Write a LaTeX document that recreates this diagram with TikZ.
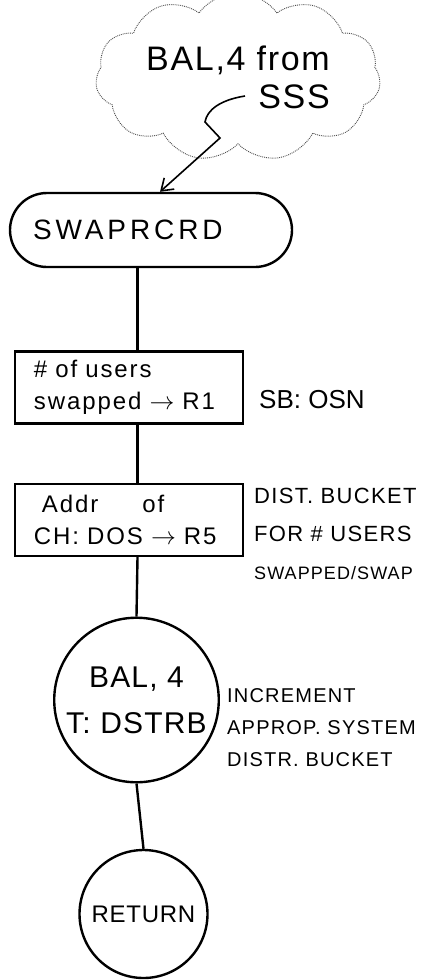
\documentclass[tikz,border=0pt]{standalone}
\usepackage{fontspec}
\setmainfont{Liberation Sans}
\usetikzlibrary{shapes.symbols,arrows.meta}

\begin{document}
\begin{tikzpicture}[x=1pt, y=-1pt,
  flow/.style={line width=2.4pt},
  procbox/.style={draw, flow, rectangle, minimum height=72pt, text width=190pt,
    inner xsep=19pt, align=left,
    font=\fontsize{24}{32}\selectfont\addfontfeature{LetterSpace=8}},
  callcircle/.style={draw, flow, circle, align=center},
  remark/.style={align=left, inner sep=0pt}]
  \useasboundingbox (0,0) rectangle (428,980);

  % Caller
  \node[cloud, cloud puffs=11, cloud puff arc=110, aspect=2,
    draw=black!70, densely dotted, line width=0.9pt,
    minimum width=285pt, minimum height=138pt,
    align=right, font=\fontsize{34}{38}\selectfont\addfontfeature{LetterSpace=5}]
    (caller) at (238,77) {BAL,4 from\\SSS};
  \coordinate (bolt) at (245,96);

  % Entry
  \node[draw, flow, rounded corners=37pt, minimum height=74pt,
    text width=236pt, inner xsep=23pt, align=left,
    font=\fontsize{28}{32}\selectfont\addfontfeature{LetterSpace=14}]
    (swaprcrd) at (151,230) {SWAPRCRD};
  \draw[flow, line width=1.6pt, -{Straight Barb[length=11pt, width=15pt]}]
    (bolt) .. controls (220,100) and (207,110) .. (205,122)
    -- (220,138) -- ([xshift=9pt]swaprcrd.north);

  % Steps
  \node[procbox] (users) at (129,387.5)
    {\# of users\\swapped $\rightarrow$ R1};
  \node[procbox] (addr) at (129,520)
    {\hspace{8pt}Addr\hspace{44pt}of\\CH: DOS $\rightarrow$ R5};
  \node[callcircle, minimum size=164pt,
    font=\fontsize{30}{46}\selectfont\addfontfeature{LetterSpace=4}]
    (dstrb) at (136.5,700) {BAL, 4\\T: DSTRB};
  \node[callcircle, minimum size=128pt,
    font=\fontsize{24}{28}\selectfont\addfontfeature{LetterSpace=3}]
    (return) at (143.5,914) {RETURN};

  \coordinate (spine) at (137.5,0);
  \draw[flow] (swaprcrd.south -| spine) -- (users.north -| spine);
  \draw[flow] (users.south -| spine) -- (addr.north -| spine);
  \draw[flow] (addr.south -| spine) -- (dstrb.north);
  \draw[flow] (dstrb.south) -- (return.north);

  % Notes
  \node[remark, anchor=west, font=\fontsize{26}{30}\selectfont]
    (osn) at (259,400) {SB: OSN};
  \node[remark, anchor=north west,
    font=\fontsize{22}{38}\selectfont\addfontfeature{LetterSpace=6}]
    (bucket) at (254,488)
    {DIST. BUCKET\\FOR \# USERS\\{\fontsize{18}{20}\selectfont SWAPPED/SWAP}};
  \node[remark, anchor=north west,
    font=\fontsize{20}{32}\selectfont\addfontfeature{LetterSpace=6}]
    (incr) at (227,688) {INCREMENT\\APPROP. SYSTEM\\DISTR. BUCKET};
\end{tikzpicture}
\end{document}
